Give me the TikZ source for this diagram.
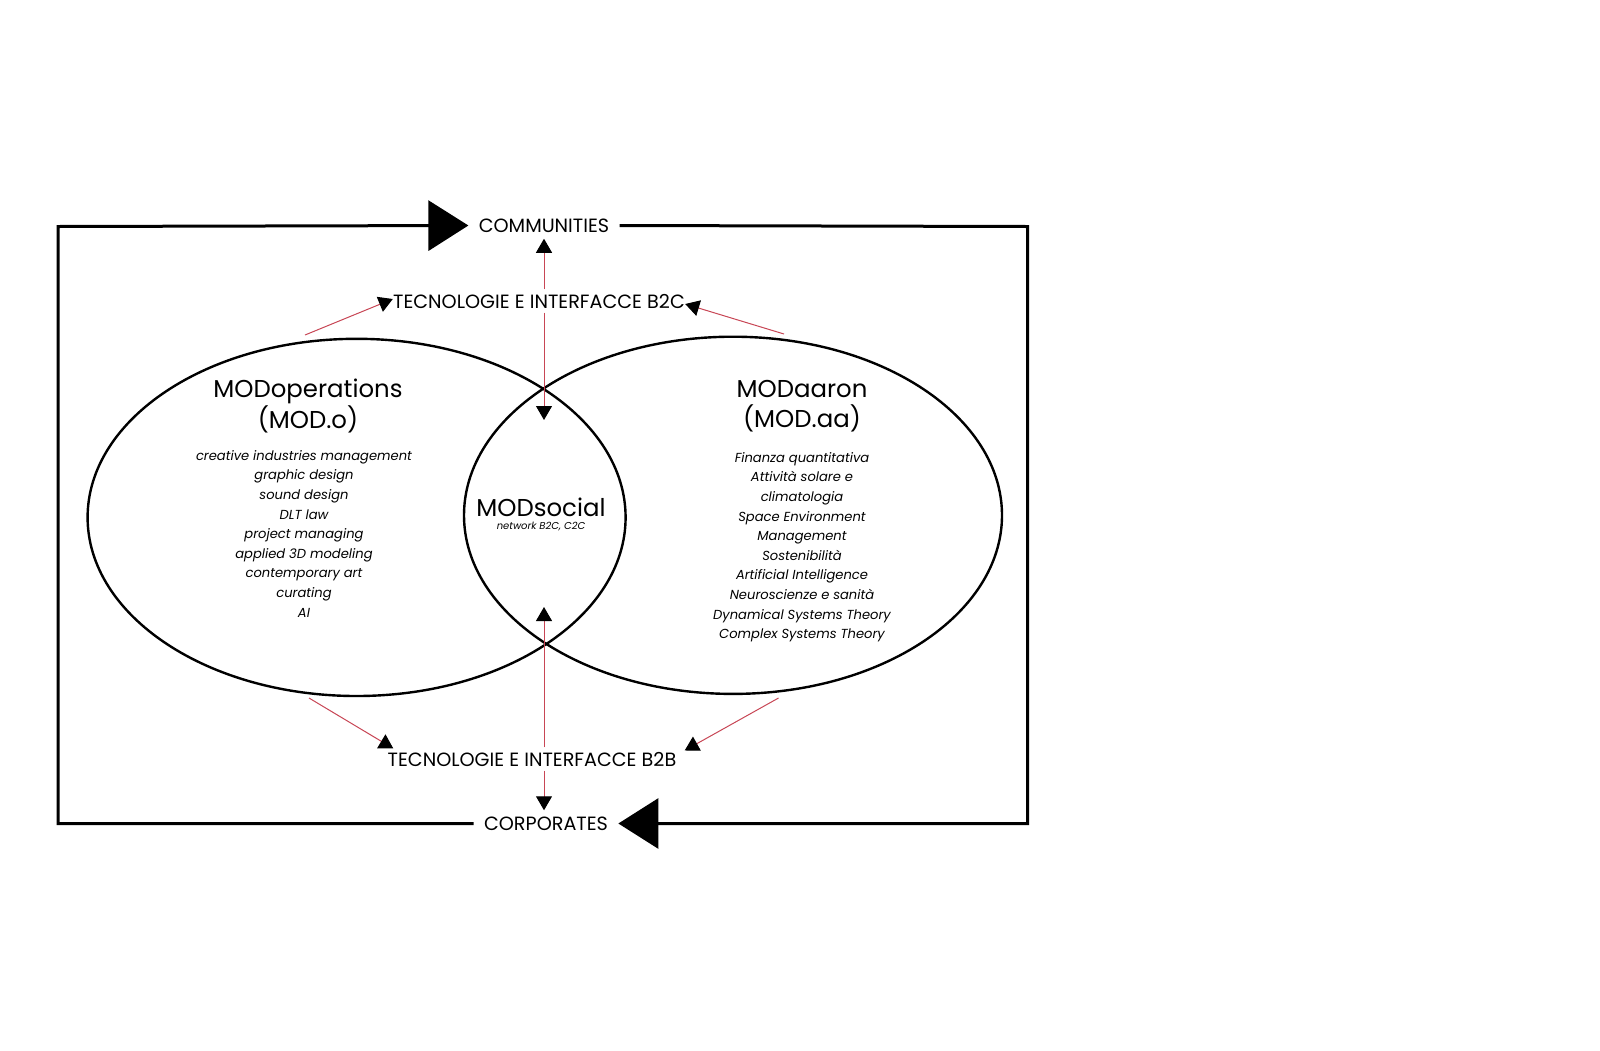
\documentclass[tikz,border=0pt]{standalone}
\usepackage{fontspec}
\setmainfont{Poppins}
\usetikzlibrary{arrows.meta}
\definecolor{linkred}{RGB}{200,70,85}
\begin{document}
\begin{tikzpicture}[x=0.5pt,y=-0.5pt,
  frame/.style={line width=1.5pt, line join=miter},
  bigtip/.style={-{Triangle[length=20pt,width=25pt]}},
  link/.style={draw=linkred, line width=0.5pt, -{Triangle[length=7pt,width=8pt,color=black,fill=black]}},
  lbl/.style={font=\fontsize{9.6}{11}\selectfont, inner xsep=5pt, inner ysep=3pt},
  midlbl/.style={font=\fontsize{9.6}{11}\selectfont, inner xsep=2pt, inner ysep=2pt},
  title/.style={align=center, font=\fontsize{12.2}{15.3}\selectfont, inner sep=0pt},
  items/.style={align=center, font=\itshape\fontsize{6.55}{9.8}\selectfont, inner sep=0pt},
  venn/.style={line width=1.2pt}]
\useasboundingbox (0,0) rectangle (1600,1050);
\fill[white] (0,0) rectangle (1600,1050);

% labels
\node[lbl] (comm) at (544,225.5) {COMMUNITIES};
\node[lbl] (corp) at (546,823.5) {CORPORATES};
\node[midlbl] (b2c) at (539,301) {TECNOLOGIE E INTERFACCE B2C};
\node[midlbl] (b2b) at (532,759) {TECNOLOGIE E INTERFACCE B2B};

% frame
\coordinate (tl) at (58,226.5);
\coordinate (tr) at (1027.5,226.5);
\coordinate (br) at (1027.5,823.5);
\coordinate (bl) at (58,823.5);
\draw[frame,bigtip] (corp.west) -- (bl) -- (tl) -- (comm.west);
\draw[frame,bigtip] (comm.east) -- (tr) -- (br) -- (corp.east);

% ellipses
\coordinate (opc) at (356.6,517.4);
\coordinate (aac) at (733,515.3);
\draw[venn] (opc) ellipse [x radius=269, y radius=178.6];
\draw[venn] (aac) ellipse [x radius=269, y radius=178.6];

% connectors
\coordinate (xtop) at (544,420);
\coordinate (xbot) at (544,607);
\coordinate (optop) at (305,335);
\coordinate (aatop) at (784,334);
\coordinate (opbot) at (309,698);
\coordinate (aabot) at (778.5,698);
\draw[link] (b2c.north -| comm.south) -- (comm.south);
\draw[link] (b2c.south -| xtop) -- (xtop);
\draw[link] (b2b.north -| xbot) -- (xbot);
\draw[link] (b2b.south -| xbot) -- (xbot |- corp.north);
\draw[link] (optop) -- ([xshift=2pt,yshift=1pt]b2c.west);
\draw[link] (aatop) -- ([xshift=-2pt,yshift=-1.5pt]b2c.east);
\draw[link] (opbot) -- ([xshift=5pt,yshift=-0.5pt]b2b.north west);
\draw[link] (aabot) -- ([xshift=2pt,yshift=-1.5pt]b2b.north east);

% texts
\node[title] (opt) at (308,406) {MODoperations\\(MOD.o)};
\node[title] (aat) at (802,406) {MODaaron\\(MOD.aa)};
\node[items, anchor=north] (opl) at (304,450) {creative industries management\\graphic design\\sound design\\DLT law\\project managing\\applied 3D modeling\\contemporary art\\curating\\AI};
\node[items, anchor=north] (aal) at (802,452) {Finanza quantitativa\\Attività solare e\\climatologia\\Space Environment\\Management\\Sostenibilità\\Artificial Intelligence\\Neuroscienze e sanità\\Dynamical Systems Theory\\Complex Systems Theory};
\node[title] (soc) at (541,507) {MODsocial};
\node[font=\itshape\fontsize{5}{5.5}\selectfont, inner sep=0pt] (socsub) at (541,526.5) {network B2C, C2C};
\end{tikzpicture}
\end{document}
